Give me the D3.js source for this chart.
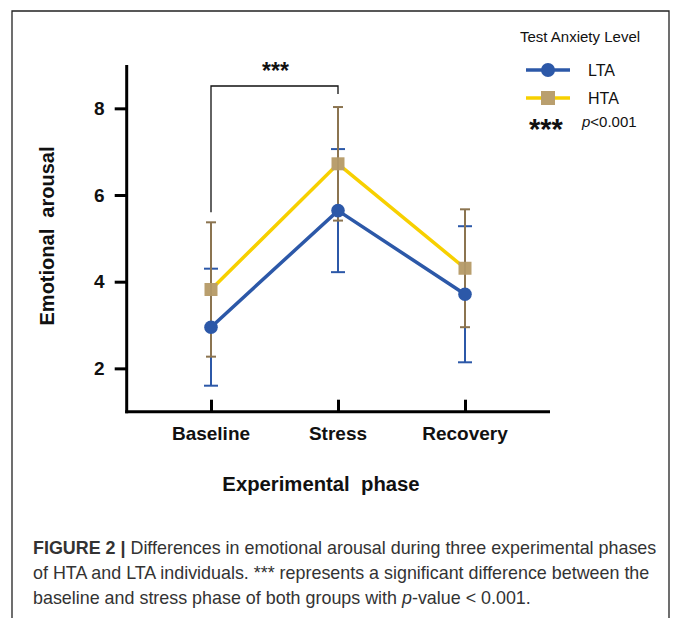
<!DOCTYPE html>
<html>
<head>
<meta charset="utf-8">
<script src="https://cdn.jsdelivr.net/npm/d3@7"></script>
<style>
  html, body { margin: 0; padding: 0; background: #fff; }
  svg { display: block; }
  text { font-family: "Liberation Sans", Arial, Helvetica, sans-serif; }
</style>
</head>
<body>
<svg id="chart" width="673" height="618"></svg>
<script>
const phases = ["Baseline", "Stress", "Recovery"];
const ltaMean = [2.95, 5.64, 3.71];
const ltaErr  = [1.35, 1.42, 1.57];
const htaMean = [3.82, 6.72, 4.31];
const htaErr  = [1.55, 1.31, 1.36];
const yTicks = [2, 4, 6, 8];
const series = [
  { name: "LTA", mean: ltaMean, err: ltaErr, line: "#2c58a8", marker: "#2c58a8", bar: "#2c58a8", shape: "circle", cap: 7 },
  { name: "HTA", mean: htaMean, err: htaErr, line: "#f7d000", marker: "#b99f6e", bar: "#8b7450", shape: "square", cap: 5 }
];

const svg = d3.select("#chart");

// frame
svg.append("path")
  .attr("d", "M12,640 L12,11 L669,11 L669,640")
  .attr("fill", "none").attr("stroke", "#222").attr("stroke-width", 1.3);

const y = d3.scaleLinear().domain([1, 9]).range([411.7, 65]);
const x = d3.scalePoint().domain(phases).range([211, 465]);
const xLeft = 126.7, xRight = 550, yBase = 411.7;

const g = svg.append("g");

// axes lines
g.append("line").attr("x1", xLeft).attr("x2", xLeft).attr("y1", y(9)).attr("y2", yBase + 1.5)
  .attr("stroke", "#000").attr("stroke-width", 3);
g.append("line").attr("x1", xLeft - 1.5).attr("x2", xRight).attr("y1", yBase).attr("y2", yBase)
  .attr("stroke", "#000").attr("stroke-width", 3);

// y ticks
const yAxis = d3.axisLeft(y).tickValues(yTicks).tickSize(12).tickPadding(10).tickFormat(d3.format("d"));
const ya = g.append("g").attr("transform", `translate(${xLeft},0)`).call(yAxis);
ya.select(".domain").remove();
ya.selectAll(".tick line").attr("stroke", "#000").attr("stroke-width", 3);
ya.selectAll(".tick text").attr("font-size", 19).attr("font-weight", "bold").attr("fill", "#111")
  .attr("font-family", "'Liberation Sans', Arial, sans-serif");

// x ticks (inward)
const xAxis = d3.axisTop(x).tickSize(12).tickFormat("");
const xa = g.append("g").attr("transform", `translate(0,${yBase})`).call(xAxis);
xa.select(".domain").remove();
xa.selectAll(".tick line").attr("stroke", "#000").attr("stroke-width", 3);
g.selectAll(".xlab").data(phases).enter().append("text")
  .attr("x", d => x(d)).attr("y", 440).attr("text-anchor", "middle")
  .attr("font-size", 19).attr("font-weight", "bold").attr("fill", "#111").text(d => d);

// axis titles
svg.append("text").attr("transform", "translate(54,236) rotate(-90)").attr("text-anchor", "middle")
  .attr("font-size", 20).attr("font-weight", "bold").attr("fill", "#111")
  .style("white-space", "pre").text("Emotional  arousal");
svg.append("text").attr("x", 321).attr("y", 491).attr("text-anchor", "middle")
  .attr("font-size", 20.3).attr("font-weight", "bold").attr("fill", "#111")
  .style("white-space", "pre").text("Experimental  phase");

// significance bracket
svg.append("path")
  .attr("d", `M${x("Baseline")},${y(5.6)} L${x("Baseline")},86 L${x("Stress")},86 L${x("Stress")},94`)
  .attr("fill", "none").attr("stroke", "#111").attr("stroke-width", 1.3);
svg.append("text").attr("x", 275.5).attr("y", 79).attr("text-anchor", "middle")
  .attr("font-size", 23).attr("font-weight", "bold").attr("fill", "#111").text("***");

// lines
const lineGen = d3.line().x((d, i) => x(phases[i])).y(d => y(d));
series.slice().reverse().forEach(s => {
  g.append("path").datum(s.mean).attr("d", lineGen)
    .attr("fill", "none").attr("stroke", s.line).attr("stroke-width", 3.5);
});

// error bars (LTA first, HTA on top)
series.forEach(s => {
  const eb = g.append("g");
  s.mean.forEach((m, i) => {
    const cx = x(phases[i]);
    const lo = y(m - s.err[i]), hi = y(m + s.err[i]);
    eb.append("line").attr("x1", cx).attr("x2", cx).attr("y1", lo).attr("y2", hi)
      .attr("stroke", s.bar).attr("stroke-width", 2);
    [lo, hi].forEach(yy => eb.append("line").attr("x1", cx - s.cap).attr("x2", cx + s.cap)
      .attr("y1", yy).attr("y2", yy).attr("stroke", s.bar).attr("stroke-width", 2));
  });
});

// markers
series.forEach(s => {
  s.mean.forEach((m, i) => {
    const cx = x(phases[i]), cy = y(m);
    if (s.shape === "circle") {
      g.append("circle").attr("cx", cx).attr("cy", cy).attr("r", 6.8).attr("fill", s.marker);
    } else {
      g.append("rect").attr("x", cx - 6.5).attr("y", cy - 6.5).attr("width", 13).attr("height", 13).attr("fill", s.marker);
    }
  });
});
series.filter(s => s.name === "HTA").forEach(s => {
  s.mean.forEach((m, i) => {
    const cx = x(phases[i]);
    g.append("line").attr("x1", cx).attr("x2", cx).attr("y1", y(m) - 6.5).attr("y2", y(m) + 6.5)
      .attr("stroke", s.bar).attr("stroke-width", 1).attr("opacity", 0.35);
  });
});

// legend
const lg = svg.append("g");
lg.append("text").attr("x", 520).attr("y", 42).attr("font-size", 15).attr("fill", "#111")
  .text("Test Anxiety Level");
series.forEach((s, i) => {
  const ly = 70 + i * 28;
  lg.append("line").attr("x1", 526).attr("x2", 570).attr("y1", ly).attr("y2", ly)
    .attr("stroke", s.line).attr("stroke-width", 3.5);
  if (s.shape === "circle") {
    lg.append("circle").attr("cx", 548).attr("cy", ly).attr("r", 7).attr("fill", s.marker);
  } else {
    lg.append("rect").attr("x", 541).attr("y", ly - 7).attr("width", 14).attr("height", 14).attr("fill", s.marker);
  }
  lg.append("text").attr("x", 588).attr("y", ly + 6).attr("font-size", 16).attr("fill", "#111").text(s.name);
});
lg.append("text").attr("x", 529).attr("y", 139).attr("font-size", 29).attr("font-weight", "bold").attr("fill", "#111").text("***");
const pt = lg.append("text").attr("x", 582).attr("y", 127).attr("font-size", 15).attr("fill", "#111");
pt.append("tspan").attr("font-style", "italic").text("p");
pt.append("tspan").text("<0.001");

// caption
const capSize = 17.9;
const cap = svg.append("g").attr("fill", "#333");
const l1 = cap.append("text").attr("x", 33).attr("y", 554).attr("font-size", capSize);
l1.append("tspan").attr("font-weight", "bold").text("FIGURE 2 | ");
l1.append("tspan").text("Differences in emotional arousal during three experimental phases");
cap.append("text").attr("x", 33).attr("y", 579).attr("font-size", capSize)
  .text("of HTA and LTA individuals. *** represents a significant difference between the");
const l3 = cap.append("text").attr("x", 33).attr("y", 604).attr("font-size", capSize);
l3.append("tspan").text("baseline and stress phase of both groups with ");
l3.append("tspan").attr("font-style", "italic").text("p");
l3.append("tspan").text("-value < 0.001.");
</script>
</body>
</html>
